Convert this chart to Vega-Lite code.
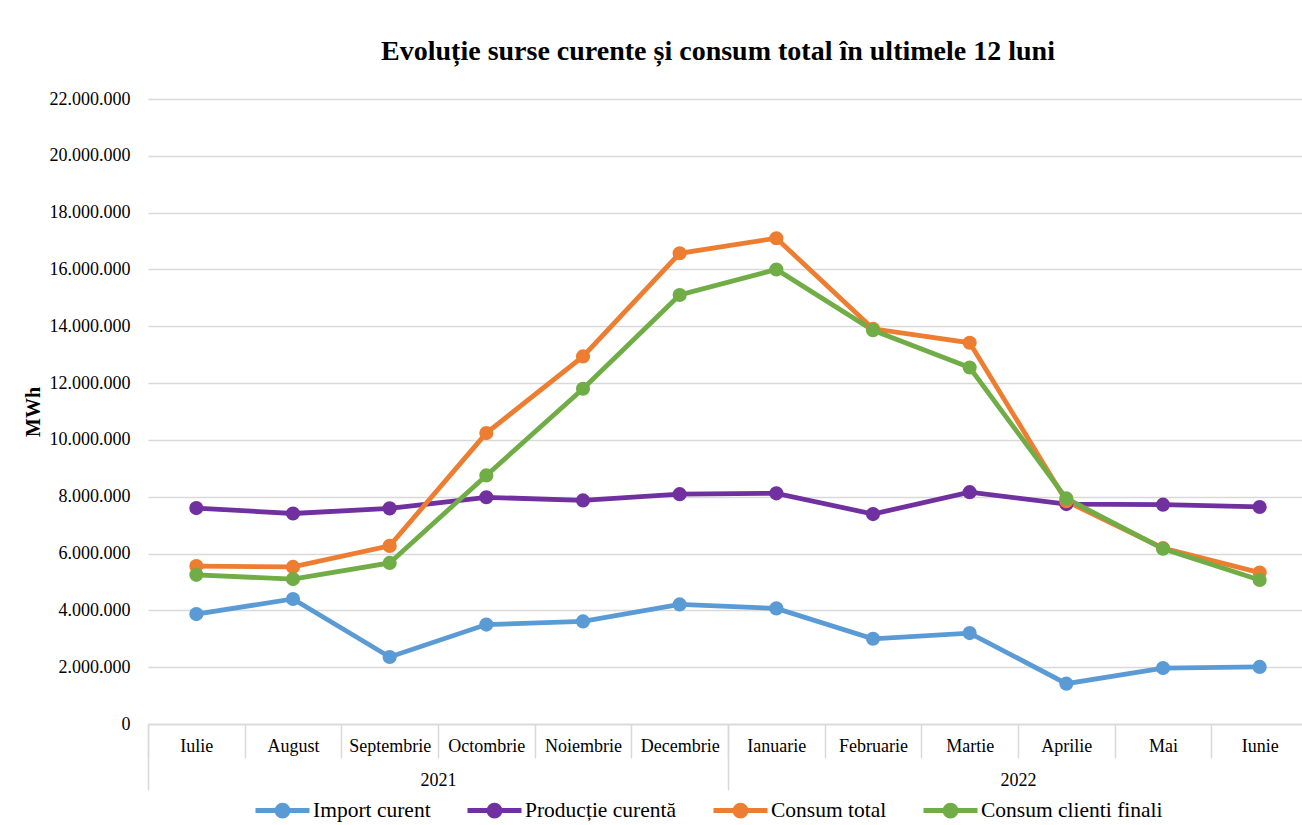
{
  "$schema": "https://vega.github.io/schema/vega-lite/v6.json",
  "autosize": {"type": "none"},
  "width": 1154,
  "height": 625,
  "padding": {"left": 148, "top": 99, "right": 0, "bottom": 101},
  "background": "white",
  "config": {
    "locale": {"number": {"decimal": ",", "thousands": ".", "grouping": [3], "currency": ["", ""]}},
    "view": {"stroke": null},
    "font": "Liberation Serif"
  },
  "title": {
    "text": "Evoluție surse curente și consum total în ultimele 12 luni",
    "font": "Liberation Serif",
    "fontSize": 28,
    "fontWeight": "bold",
    "color": "#000000",
    "anchor": "middle",
    "baseline": "bottom",
    "offset": -4,
    "dx": -7
  },
  "layer": [
    {
      "data": {
        "values": [
          {"month": "Iulie", "series": "Import curent", "value": 3870000},
          {"month": "August", "series": "Import curent", "value": 4400000},
          {"month": "Septembrie", "series": "Import curent", "value": 2360000},
          {"month": "Octombrie", "series": "Import curent", "value": 3500000},
          {"month": "Noiembrie", "series": "Import curent", "value": 3610000},
          {"month": "Decembrie", "series": "Import curent", "value": 4210000},
          {"month": "Ianuarie", "series": "Import curent", "value": 4070000},
          {"month": "Februarie", "series": "Import curent", "value": 3000000},
          {"month": "Martie", "series": "Import curent", "value": 3200000},
          {"month": "Aprilie", "series": "Import curent", "value": 1420000},
          {"month": "Mai", "series": "Import curent", "value": 1970000},
          {"month": "Iunie", "series": "Import curent", "value": 2010000},
          {"month": "Iulie", "series": "Producție curentă", "value": 7600000},
          {"month": "August", "series": "Producție curentă", "value": 7410000},
          {"month": "Septembrie", "series": "Producție curentă", "value": 7590000},
          {"month": "Octombrie", "series": "Producție curentă", "value": 7980000},
          {"month": "Noiembrie", "series": "Producție curentă", "value": 7870000},
          {"month": "Decembrie", "series": "Producție curentă", "value": 8090000},
          {"month": "Ianuarie", "series": "Producție curentă", "value": 8120000},
          {"month": "Februarie", "series": "Producție curentă", "value": 7390000},
          {"month": "Martie", "series": "Producție curentă", "value": 8160000},
          {"month": "Aprilie", "series": "Producție curentă", "value": 7740000},
          {"month": "Mai", "series": "Producție curentă", "value": 7720000},
          {"month": "Iunie", "series": "Producție curentă", "value": 7640000},
          {"month": "Iulie", "series": "Consum total", "value": 5560000},
          {"month": "August", "series": "Consum total", "value": 5530000},
          {"month": "Septembrie", "series": "Consum total", "value": 6270000},
          {"month": "Octombrie", "series": "Consum total", "value": 10240000},
          {"month": "Noiembrie", "series": "Consum total", "value": 12940000},
          {"month": "Decembrie", "series": "Consum total", "value": 16570000},
          {"month": "Ianuarie", "series": "Consum total", "value": 17100000},
          {"month": "Februarie", "series": "Consum total", "value": 13910000},
          {"month": "Martie", "series": "Consum total", "value": 13420000},
          {"month": "Aprilie", "series": "Consum total", "value": 7840000},
          {"month": "Mai", "series": "Consum total", "value": 6190000},
          {"month": "Iunie", "series": "Consum total", "value": 5330000},
          {"month": "Iulie", "series": "Consum clienti finali", "value": 5250000},
          {"month": "August", "series": "Consum clienti finali", "value": 5100000},
          {"month": "Septembrie", "series": "Consum clienti finali", "value": 5670000},
          {"month": "Octombrie", "series": "Consum clienti finali", "value": 8750000},
          {"month": "Noiembrie", "series": "Consum clienti finali", "value": 11800000},
          {"month": "Decembrie", "series": "Consum clienti finali", "value": 15100000},
          {"month": "Ianuarie", "series": "Consum clienti finali", "value": 16000000},
          {"month": "Februarie", "series": "Consum clienti finali", "value": 13860000},
          {"month": "Martie", "series": "Consum clienti finali", "value": 12550000},
          {"month": "Aprilie", "series": "Consum clienti finali", "value": 7940000},
          {"month": "Mai", "series": "Consum clienti finali", "value": 6170000},
          {"month": "Iunie", "series": "Consum clienti finali", "value": 5070000}
        ]
      },
      "encoding": {
        "x": {
          "field": "month",
          "type": "ordinal",
          "bandPosition": 0.5,
          "sort": ["Iulie", "August", "Septembrie", "Octombrie", "Noiembrie", "Decembrie", "Ianuarie", "Februarie", "Martie", "Aprilie", "Mai", "Iunie"],
          "scale": {"type": "band", "range": [0, 1160], "paddingInner": 0, "paddingOuter": 0},
          "axis": {
            "orient": "bottom",
            "title": null,
            "grid": false,
            "tickBand": "extent",
            "tickSize": 34,
            "tickColor": "#d9d9d9",
            "tickWidth": 1.5,
            "domainColor": "#d9d9d9",
            "domainWidth": 1.5,
            "labelAngle": 0,
            "labelBaseline": "middle",
            "labelPadding": -12,
            "labelFont": "Liberation Serif",
            "labelFontSize": 18,
            "labelColor": "#000000",
            "labelFlush": false,
            "labelOverlap": false
          }
        },
        "y": {
          "field": "value",
          "type": "quantitative",
          "scale": {"domain": [0, 22000000], "nice": false},
          "axis": {
            "title": "MWh",
            "titleFont": "Liberation Serif",
            "titleFontSize": 20,
            "titleFontWeight": "bold",
            "titleColor": "#000000",
            "titlePadding": 6,
            "values": [0, 2000000, 4000000, 6000000, 8000000, 10000000, 12000000, 14000000, 16000000, 18000000, 20000000, 22000000],
            "format": ",.0f",
            "domain": false,
            "ticks": false,
            "labelPadding": 18,
            "labelFont": "Liberation Serif",
            "labelFontSize": 18,
            "labelColor": "#000000",
            "gridColor": "#d9d9d9",
            "gridWidth": 1.5
          }
        },
        "color": {
          "field": "series",
          "type": "nominal",
          "sort": ["Import curent", "Producție curentă", "Consum total", "Consum clienti finali"],
          "scale": {
            "domain": ["Import curent", "Producție curentă", "Consum total", "Consum clienti finali"],
            "range": ["#5B9BD5", "#7030A0", "#ED7D31", "#70AD47"]
          },
          "legend": {
            "title": null,
            "orient": "none",
            "legendX": 105,
            "legendY": 682,
            "direction": "horizontal",
            "labelFont": "Liberation Serif",
            "labelFontSize": 21.5,
            "labelColor": "#000000",
            "labelLimit": 400,
            "labelOffset": 1,
            "columnPadding": 26,
            "symbolType": "M-1,0H1M0.2,0A0.2,0.2,0,1,1,-0.2,0A0.2,0.2,0,1,1,0.2,0Z",
            "symbolSize": 2916,
            "symbolStrokeWidth": 5,
            "encode": {
              "symbols": {
                "update": {
                  "fill": {"scale": "color", "field": "value"},
                  "stroke": {"scale": "color", "field": "value"},
                  "opacity": {"value": 1},
                  "fillOpacity": {"value": 1},
                  "strokeOpacity": {"value": 1}
                }
              }
            }
          }
        }
      },
      "layer": [
        {"mark": {"type": "line", "strokeWidth": 4.8}},
        {"mark": {"type": "point", "filled": true, "size": 200, "opacity": 1}}
      ]
    },
    {
      "data": {"values": [{"year": "2021"}, {"year": "2022"}]},
      "mark": {"type": "point", "opacity": 0},
      "encoding": {
        "x": {
          "field": "year",
          "type": "ordinal",
          "scale": {"type": "band", "range": [0, 1160], "paddingInner": 0, "paddingOuter": 0},
          "axis": {
            "orient": "bottom",
            "title": null,
            "grid": false,
            "domain": false,
            "tickBand": "extent",
            "tickSize": 66,
            "tickColor": "#d9d9d9",
            "tickWidth": 1.5,
            "labelAngle": 0,
            "labelBaseline": "middle",
            "labelPadding": -10,
            "labelFont": "Liberation Serif",
            "labelFontSize": 18,
            "labelColor": "#000000",
            "labelFlush": false
          }
        }
      }
    }
  ],
  "resolve": {"scale": {"x": "independent"}, "axis": {"x": "independent"}}
}
